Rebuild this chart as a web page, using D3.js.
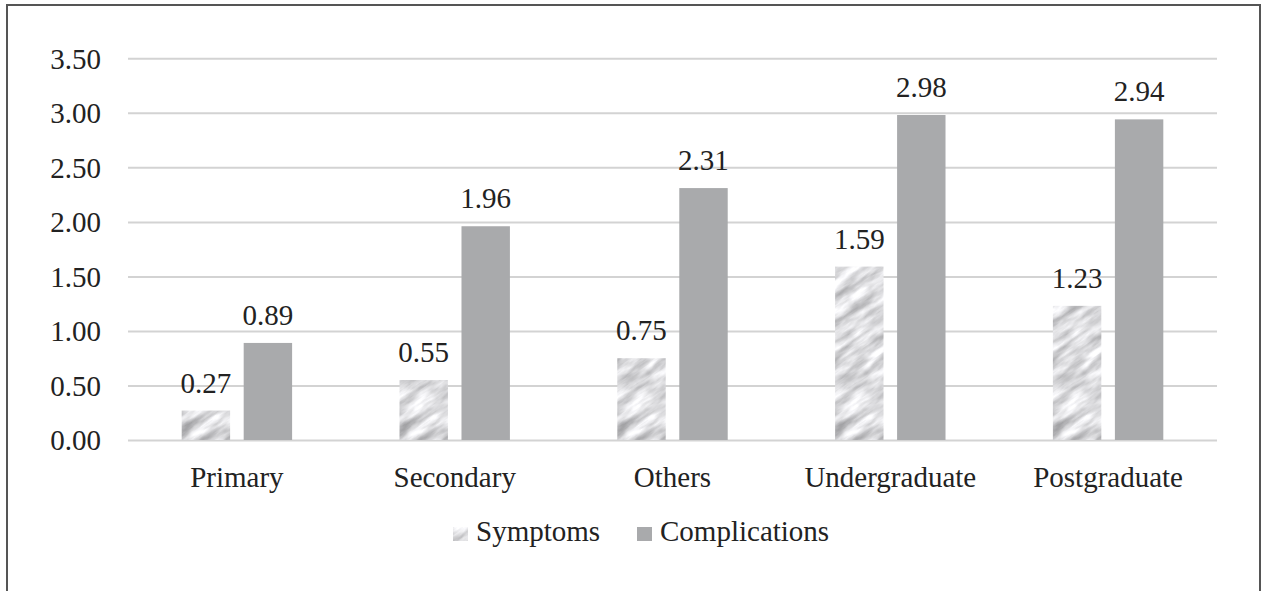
<!DOCTYPE html>
<html>
<head>
<meta charset="utf-8">
<script src="https://cdn.jsdelivr.net/npm/d3@7"></script>
<style>
  body { margin: 0; background: #fff; }
  text { font-family: "Liberation Serif", "Times New Roman", serif; fill: #222; }
</style>
</head>
<body>
<div id="chart-area"></div>
<script>
// education levels and the two series
const categories = ["Primary", "Secondary", "Others", "Undergraduate", "Postgraduate"];
const symptoms = [0.27, 0.55, 0.75, 1.59, 1.23];
const complications = [0.89, 1.96, 2.31, 2.98, 2.94];
const seriesNames = ["Symptoms", "Complications"];
const yTicks = [0, 0.5, 1, 1.5, 2, 2.5, 3, 3.5];

const W = 1270, H = 591;
const plotLeft = 128, plotRight = 1217, plotTop = 58.3, plotBottom = 440;

let svg = d3.select("#chart-area").append("svg")
  .attr("width", W)
  .attr("height", H);

// marble-ish texture for the symptoms bars (noise tile, rotated for the diagonal streaks)
let defs = svg.append("defs");
let T = 300;
let f = defs.append("filter").attr("id", "marble")
  .attr("filterUnits", "userSpaceOnUse")
  .attr("color-interpolation-filters", "sRGB")
  .attr("x", 0).attr("y", 0).attr("width", T).attr("height", T);
f.append("feTurbulence")
  .attr("type", "fractalNoise")
  .attr("baseFrequency", "0.025 0.1")
  .attr("numOctaves", 4)
  .attr("seed", 11)
  .attr("stitchTiles", "stitch")
  .attr("result", "noise");
f.append("feColorMatrix")
  .attr("in", "noise")
  .attr("type", "matrix")
  .attr("values", "0.65 0 0 0 0.53  0.65 0 0 0 0.53  0.65 0 0 0 0.54  0 0 0 0 1");

let pat = defs.append("pattern").attr("id", "marbleFill")
  .attr("patternUnits", "userSpaceOnUse")
  .attr("width", T).attr("height", T)
  .attr("patternTransform", "rotate(-35)");
pat.append("rect")
  .attr("width", T).attr("height", T)
  .attr("fill", "#ddd")
  .attr("filter", "url(#marble)");

const fillOf = k => k == "Symptoms" ? "url(#marbleFill)" : "#a9aaac";

// frame
svg.append("rect")
  .attr("x", 7).attr("y", 5)
  .attr("width", 1253).attr("height", 620)
  .attr("fill", "none")
  .attr("stroke", "#555")
  .attr("stroke-width", 2);

let y = d3.scaleLinear().domain([0, 3.5]).range([plotBottom, plotTop]);
let x0 = d3.scaleBand().domain(categories).range([plotLeft, plotRight]);
let x1 = d3.scaleBand().domain(seriesNames).range([0, x0.bandwidth()])
  .paddingInner(0.219).paddingOuter(0.866);

// gridlines + y labels
let yAxis = d3.axisLeft(y).tickValues(yTicks)
  .tickSize(-(plotRight - plotLeft)).tickPadding(27)
  .tickFormat(d3.format(".2f"));
let gy = svg.append("g")
  .attr("transform", "translate(" + plotLeft + ",0)")
  .call(yAxis);
gy.select(".domain").remove();
gy.selectAll(".tick line").attr("stroke", "#d3d3d3").attr("stroke-width", 2);
gy.selectAll(".tick text")
  .attr("font-size", 29)
  .attr("dy", "0.34em")
  .attr("fill", "#222")
  .style("font-family", '"Liberation Serif", serif');

// x labels
let xAxis = d3.axisBottom(x0).tickSize(0).tickPadding(26);
let gx = svg.append("g")
  .attr("transform", "translate(0," + plotBottom + ")")
  .call(xAxis);
gx.select(".domain").remove();
gx.selectAll(".tick text")
  .attr("font-size", 29)
  .attr("fill", "#222")
  .style("font-family", '"Liberation Serif", serif');

let rows = categories.map((c, i) => ({ cat: c, Symptoms: symptoms[i], Complications: complications[i] }));

let groups = svg.selectAll("g.cat")
  .data(rows)
  .enter().append("g")
  .attr("class", "cat")
  .attr("transform", d => "translate(" + x0(d.cat) + ",0)");

let bars = groups.selectAll("g.bar")
  .data(d => seriesNames.map(k => ({ key: k, value: d[k] })))
  .enter().append("g").attr("class", "bar");

bars.append("rect")
  .attr("x", d => x1(d.key))
  .attr("y", d => y(d.value))
  .attr("width", x1.bandwidth())
  .attr("height", d => plotBottom - y(d.value))
  .attr("fill", d => fillOf(d.key));

bars.append("text")
  .attr("x", d => x1(d.key) + x1.bandwidth() / 2)
  .attr("y", d => y(d.value) - 18)
  .attr("text-anchor", "middle")
  .attr("font-size", 29)
  .text(d => d.value.toFixed(2));

// legend
let legendX = [453, 637];
let lg = svg.selectAll("g.legend")
  .data(seriesNames)
  .enter().append("g")
  .attr("class", "legend")
  .attr("transform", (d, i) => "translate(" + legendX[i] + ",527)");
lg.append("rect")
  .attr("width", 15).attr("height", 14)
  .attr("fill", d => fillOf(d));
lg.append("text")
  .attr("x", 23).attr("y", 14)
  .attr("font-size", 29)
  .text(d => d);
</script>
</body>
</html>
